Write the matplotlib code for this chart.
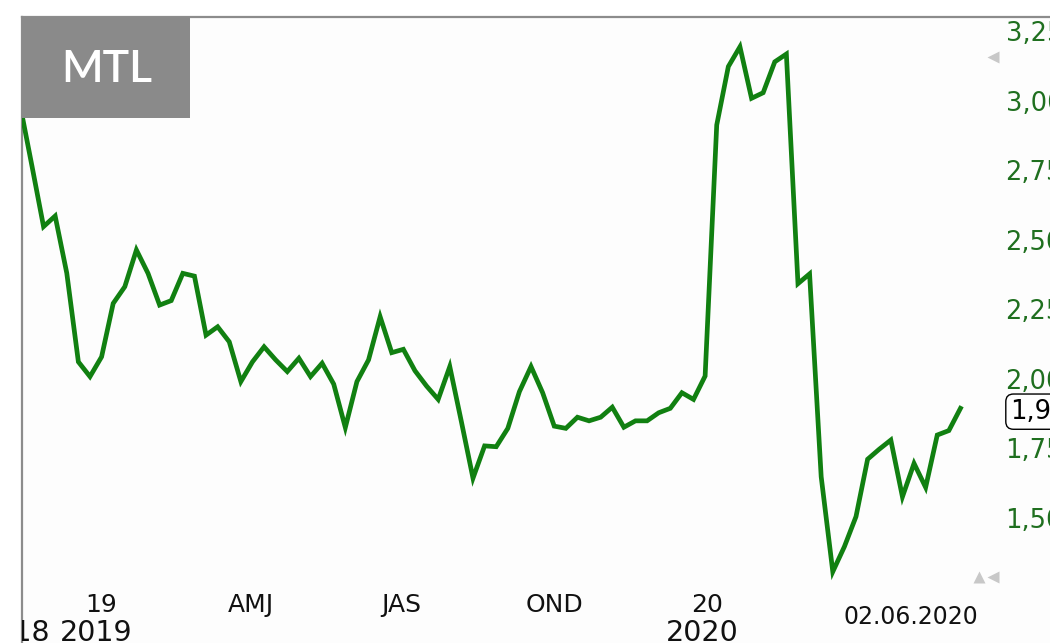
import matplotlib
matplotlib.use("Agg")
import matplotlib.pyplot as plt
import matplotlib.dates as mdates
from matplotlib.patches import Rectangle
import pandas as pd

# ---- data (weekly closes) ----
ticker = "MTL"
last_date = "2020-06-02"
values = [
    2.990, 2.776, 2.558, 2.596, 2.391, 2.072, 2.019, 2.090, 2.282, 2.342,
    2.474, 2.390, 2.276, 2.292, 2.390, 2.380, 2.168, 2.198, 2.144, 2.001,
    2.072, 2.126, 2.079, 2.037, 2.085, 2.019, 2.067, 1.992, 1.836, 2.001,
    2.079, 2.234, 2.105, 2.117, 2.040, 1.985, 1.937, 2.055, 1.857, 1.654,
    1.770, 1.767, 1.833, 1.965, 2.055, 1.961, 1.841, 1.833, 1.873, 1.860,
    1.873, 1.909, 1.837, 1.860, 1.860, 1.889, 1.905, 1.961, 1.937, 2.021,
    2.923, 3.133, 3.204, 3.019, 3.039, 3.150, 3.178, 2.353, 2.388, 1.659,
    1.318, 1.408, 1.516, 1.722, 1.758, 1.791, 1.587, 1.707, 1.621, 1.809,
    1.825, 1.905,
]
dates = pd.date_range(end=last_date, periods=len(values), freq="7D")

y_ticks = [3.25, 3.00, 2.75, 2.50, 2.25, 2.00, 1.75, 1.50]
y_tick_labels = ["3,25", "3,00", "2,75", "2,50", "2,25", "2,00", "1,75", "1,50"]
x_label_dates = ["2019-01-01", "2019-04-01", "2019-07-01", "2019-10-01", "2020-01-01"]
x_labels = ["19", "AMJ", "JAS", "OND", "20"]
year_label_dates = ["2019-01-01", "2020-01-01"]
year_labels = ["2019", "2020"]
current_label = "1,90"
date_stamp = "02.06.2020"

# ---- figure ----
W, H, DPI = 1050, 643, 100
fig = plt.figure(figsize=(W / DPI, H / DPI), dpi=DPI, facecolor="white")
ax = fig.add_axes([22 / W, 0, (W - 22) / W, (H - 17) / H])
ax.set_facecolor("#fdfdfd")

green = "#118011"
label_green = "#1f6f1f"
frame_gray = "#8c8c8c"
text_col = "#111111"

ax.plot(dates, values, color=green, lw=3.4, solid_joinstyle="miter", zorder=3)

end = pd.Timestamp(last_date)
ax.set_xlim(end - pd.Timedelta(days=566), end + pd.Timedelta(days=54))
ax.set_ylim(1.0617, 3.3111)

for s in ["right", "bottom"]:
    ax.spines[s].set_visible(False)
for s in ["top", "left"]:
    ax.spines[s].set_color(frame_gray)
    ax.spines[s].set_linewidth(1.6)
ax.set_xticks([])
ax.set_yticks([])

# right-hand value labels (cut by the picture edge, as in the reference)
ytr = ax.get_yaxis_transform()
for v, lab in zip(y_ticks, y_tick_labels):
    ax.text(0.9568, v, lab, transform=ytr, ha="left", va="center",
            fontsize=18.5, color=label_green, clip_on=False, family="DejaVu Sans")

# current value box
ax.text(0.9615, values[-1] - 0.012, current_label, transform=ytr, ha="left", va="center",
        fontsize=18.5, color="black", clip_on=False, family="DejaVu Sans",
        bbox=dict(boxstyle="round,pad=0.18,rounding_size=0.3", fc="white", ec="black", lw=1.0))

# x labels
xtr = ax.get_xaxis_transform()
for d, lab in zip(x_label_dates, x_labels):
    ax.text(mdates.date2num(pd.Timestamp(d)), 0.0615, lab, transform=xtr,
            ha="center", va="center", fontsize=18, color=text_col)
for d, lab in zip(year_label_dates, year_labels):
    ax.text(mdates.date2num(pd.Timestamp(d)) - 3, 0.0152, lab, transform=xtr,
            ha="center", va="center", fontsize=20.5, color=text_col)
ax.text(0.0275, 0.0152, "2018", transform=ax.transAxes, ha="right", va="center",
        fontsize=20.5, color=text_col, clip_on=True)
ax.text(0.8648, 0.0423, date_stamp, transform=ax.transAxes, ha="center", va="center",
        fontsize=17, color=text_col)

# small gray markers
ax.plot([0.9445], [0.9355], marker="<", ms=8, color="#c8c8c8", mec="none",
        transform=ax.transAxes, clip_on=False)
ax.plot([0.9310], [0.1053], marker="^", ms=8,
        color="#c8c8c8", mec="none", transform=ax.transAxes, clip_on=False)
ax.plot([0.9445], [0.1053], marker="<", ms=8, color="#c8c8c8", mec="none",
        transform=ax.transAxes, clip_on=False)

# ticker box
ax.add_patch(Rectangle((0, 0.8387), 168 / 1028, 1 - 0.8387, transform=ax.transAxes,
                       facecolor="#8a8a8a", edgecolor="none", zorder=5, clip_on=False))
ax.text(84.5 / 1028, (643 - 70) / 626, ticker, transform=ax.transAxes, ha="center",
        va="center", fontsize=32, fontweight="semibold", color="white",
        family="Lato", zorder=6)

fig.savefig("out.png", dpi=DPI, facecolor="white")
